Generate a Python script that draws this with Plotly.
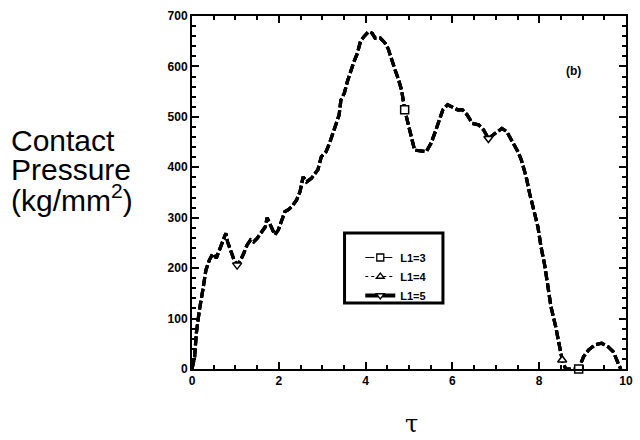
import plotly.graph_objects as go

# ---- data ----
tau = [0.00, 0.03, 0.06, 0.10, 0.17, 0.25, 0.29, 0.32, 0.40, 0.48, 0.56, 0.63, 0.70, 0.78, 0.82,
       0.89, 0.97, 1.04, 1.12, 1.19, 1.27, 1.35, 1.42, 1.50, 1.61, 1.69, 1.73, 1.84, 1.91, 1.99,
       2.06, 2.14, 2.22, 2.30, 2.41, 2.49, 2.56, 2.64, 2.75, 2.90, 2.98, 3.09, 3.17, 3.24, 3.32,
       3.39, 3.43, 3.51, 3.58, 3.66, 3.73, 3.81, 3.88, 3.96, 4.07, 4.15, 4.22, 4.34, 4.45, 4.52,
       4.60, 4.68, 4.75, 4.83, 4.90, 4.98, 5.06, 5.13, 5.40, 5.51, 5.62, 5.70, 5.78, 5.89, 6.00,
       6.12, 6.23, 6.34, 6.46, 6.61, 6.72, 6.83, 6.98, 7.14, 7.25, 7.36, 7.51, 7.59, 7.70, 7.78,
       7.85, 7.93, 7.97, 8.04, 8.12, 8.19, 8.27, 8.38, 8.46, 8.53, 8.61, 8.91, 9.02, 9.14, 9.29,
       9.44, 9.59, 9.71, 9.82, 9.88]
pressure = [0, 15, 24, 71, 117, 157, 176, 196, 216, 229, 220, 236, 248, 269, 252,
            236, 216, 206, 216, 229, 246, 256, 252, 259, 272, 282, 300, 279, 266, 276,
            295, 312, 316, 322, 335, 352, 381, 371, 378, 395, 421, 431, 448, 467, 487,
            504, 533, 547, 570, 593, 609, 626, 649, 659, 669, 666, 656, 656, 646, 635,
            612, 593, 576, 553, 514, 487, 461, 434, 431, 448, 474, 494, 514, 524, 520,
            514, 514, 504, 487, 484, 474, 457, 467, 477, 471, 454, 431, 414, 381, 348,
            322, 295, 282, 243, 209, 170, 124, 84, 48, 18, 0, 0, 24, 38, 48,
            51, 44, 34, 11, 0]

series_names = ["L1=3", "L1=4", "L1=5"]
marker_tau = {"L1=3": [4.90, 8.91], "L1=4": [8.53], "L1=5": [1.04, 6.83]}
marker_symbol = {"L1=3": "square", "L1=4": "triangle-up", "L1=5": "triangle-down"}
legend_dash = {"L1=3": "dash", "L1=4": "dot", "L1=5": "solid"}
legend_width = {"L1=3": 1.2, "L1=4": 1.2, "L1=5": 4}

x_range = [0, 10]
y_range = [0, 700]
x_major, x_minor = 2, 0.5
y_major, y_minor = 100, 20

FONT = "Liberation Sans, Arial, sans-serif"
fig = go.Figure()

# plotted curves (they coincide)
for name in series_names:
    fig.add_trace(go.Scatter(x=tau, y=pressure, mode="lines", showlegend=False,
                             line=dict(color="black", width=3.2, dash="9px,3px")))
# markers drawn sparsely on the curves
for name in series_names:
    idx = [tau.index(t) for t in marker_tau[name]]
    fig.add_trace(go.Scatter(x=[tau[i] for i in idx], y=[pressure[i] for i in idx],
                             mode="markers", showlegend=False, cliponaxis=False,
                             marker=dict(symbol=marker_symbol[name], size=8, color="white",
                                         line=dict(color="black", width=1.5))))
# legend entries
for name in series_names:
    fig.add_trace(go.Scatter(x=[None], y=[None], mode="lines+markers", name=name,
                             line=dict(color="black", width=legend_width[name], dash=legend_dash[name]),
                             marker=dict(symbol=marker_symbol[name], size=7, color="white",
                                         line=dict(color="black", width=1.3))))

def px2paper_x(px):
    return (px - 192) / 441.0

def px2paper_y(py):
    return (369 - py) / 353.0

tickfont = dict(family=FONT, size=12, weight="bold", color="black")

fig.update_layout(
    width=640, height=440,
    margin=dict(l=192, r=7, t=16, b=71),
    paper_bgcolor="white", plot_bgcolor="white",
    font=dict(family=FONT, color="black"),
    showlegend=True,
    legend=dict(x=px2paper_x(363), y=px2paper_y(243), xanchor="left", yanchor="top",
                bgcolor="rgba(0,0,0,0)", borderwidth=0,
                font=dict(family=FONT, size=11, weight="bold", color="black"),
                itemwidth=30, tracegroupgap=0),
    xaxis=dict(range=x_range, dtick=x_major, tick0=0, ticks="inside", ticklen=7, tickwidth=2,
               tickcolor="black", showline=True, linecolor="black", linewidth=2, mirror="ticks",
               showgrid=False, zeroline=False, tickfont=tickfont,
               minor=dict(dtick=x_minor, ticks="inside", ticklen=4, tickwidth=1.5, tickcolor="black")),
    yaxis=dict(range=y_range, dtick=y_major, tick0=0, ticks="inside", ticklen=7, tickwidth=2,
               tickcolor="black", showline=True, linecolor="black", linewidth=2, mirror="ticks",
               showgrid=False, zeroline=False, tickfont=tickfont,
               minor=dict(dtick=y_minor, ticks="inside", ticklen=4, tickwidth=1.5, tickcolor="black")),
    shapes=[dict(type="rect", xref="paper", yref="paper",
                 x0=px2paper_x(347), x1=px2paper_x(447), y0=px2paper_y(303), y1=px2paper_y(233),
                 line=dict(color="black", width=3), fillcolor="rgba(0,0,0,0)")],
)

title_lines = [("Contact", 140), ("Pressure", 169), ("(kg/mm<sup>2</sup>)", 198)]
for text, yc in title_lines:
    fig.add_annotation(text=text, xref="paper", yref="paper", x=px2paper_x(6), y=px2paper_y(yc),
                       xanchor="left", yanchor="middle", showarrow=False,
                       font=dict(family=FONT, size=30, color="black"))

fig.add_annotation(text="τ", xref="paper", yref="paper", x=px2paper_x(415), y=px2paper_y(424),
                   xanchor="center", yanchor="middle", showarrow=False,
                   font=dict(family="DejaVu Serif, serif", size=24, color="black"))
fig.add_annotation(text="(b)", xref="paper", yref="paper", x=px2paper_x(580), y=px2paper_y(71),
                   xanchor="center", yanchor="middle", showarrow=False,
                   font=dict(family=FONT, size=12, weight="bold", color="black"))

fig.write_html("out.html")
